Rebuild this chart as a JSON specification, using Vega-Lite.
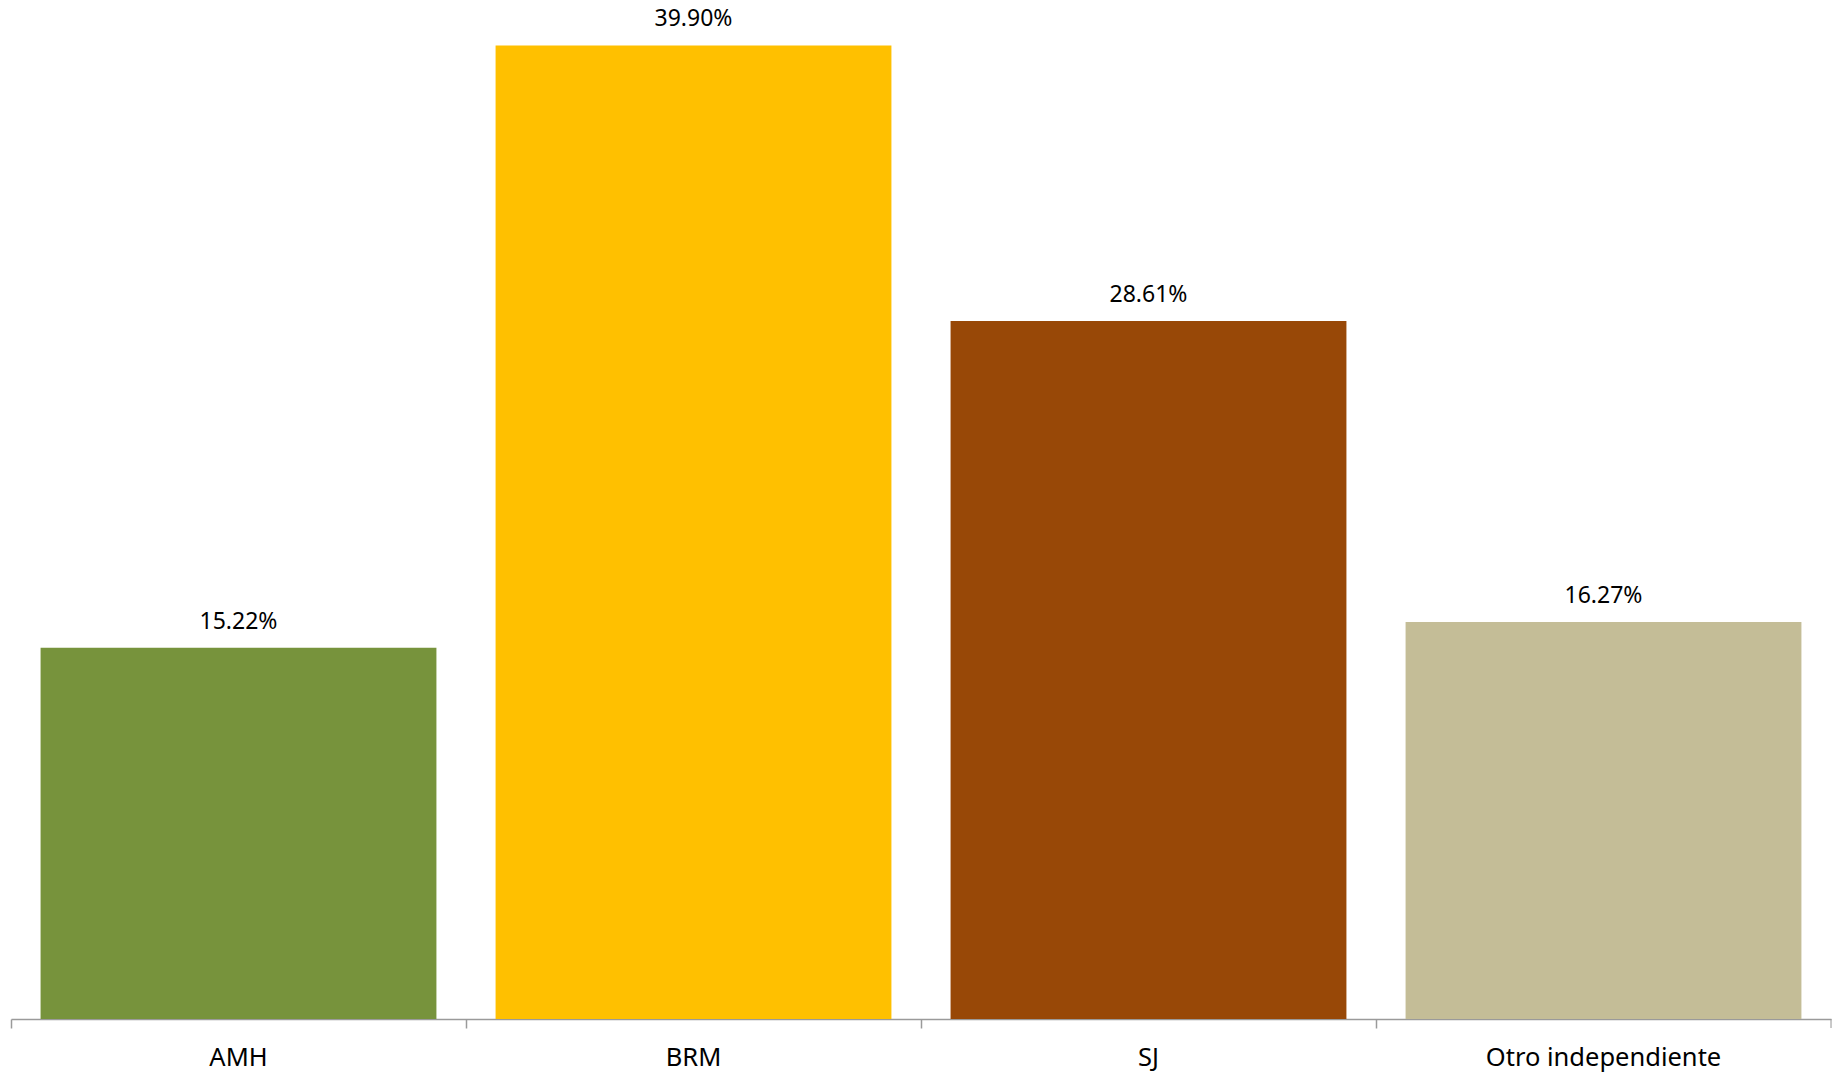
{
  "$schema": "https://vega.github.io/schema/vega-lite/v6.json",
  "width": 1820,
  "height": 976,
  "autosize": {"type": "none"},
  "padding": {"left": 11, "top": 43, "right": 8, "bottom": 53},
  "config": {"view": {"stroke": null}, "font": "Noto Sans"},
  "data": {
    "values": [
      {"cat": "AMH", "value": 15.22, "label": "15.22%"},
      {"cat": "BRM", "value": 39.90, "label": "39.90%"},
      {"cat": "SJ", "value": 28.61, "label": "28.61%"},
      {"cat": "Otro independiente", "value": 16.27, "label": "16.27%"}
    ]
  },
  "encoding": {
    "x": {
      "field": "cat",
      "type": "nominal",
      "sort": null,
      "scale": {"paddingInner": 0.13, "paddingOuter": 0.065},
      "axis": {
        "orient": "bottom",
        "title": null,
        "labelAngle": 0,
        "labelLimit": 0,
        "domainColor": "#9a9a9a",
        "domainWidth": 1.5,
        "tickColor": "#9a9a9a",
        "tickWidth": 1.5,
        "tickSize": 9,
        "bandPosition": -0.0747,
        "labelFontSize": 25.5,
        "labelColor": "#000000",
        "labelPadding": 17
      }
    }
  },
  "layer": [
    {
      "mark": {"type": "bar"},
      "encoding": {
        "y": {
          "field": "value",
          "type": "quantitative",
          "scale": {"domain": [0, 40], "nice": false},
          "axis": null
        },
        "color": {
          "field": "cat",
          "type": "nominal",
          "scale": {
            "domain": ["AMH", "BRM", "SJ", "Otro independiente"],
            "range": ["#77933C", "#FFC000", "#984807", "#C4BD97"]
          },
          "legend": null
        }
      }
    },
    {
      "mark": {"type": "text", "baseline": "alphabetic", "dy": -19, "fontSize": 23, "color": "#000000"},
      "encoding": {
        "y": {"field": "value", "type": "quantitative"},
        "text": {"field": "label"}
      }
    },
    {
      "transform": [{"filter": "datum.cat === 'Otro independiente'"}],
      "mark": {"type": "tick", "orient": "vertical", "size": 9, "thickness": 1.5, "color": "#9a9a9a", "xOffset": 29.6, "yOffset": 4.5},
      "encoding": {
        "x": {"field": "cat", "type": "nominal", "sort": null, "bandPosition": 1},
        "y": {"datum": 0, "type": "quantitative"}
      }
    }
  ]
}
